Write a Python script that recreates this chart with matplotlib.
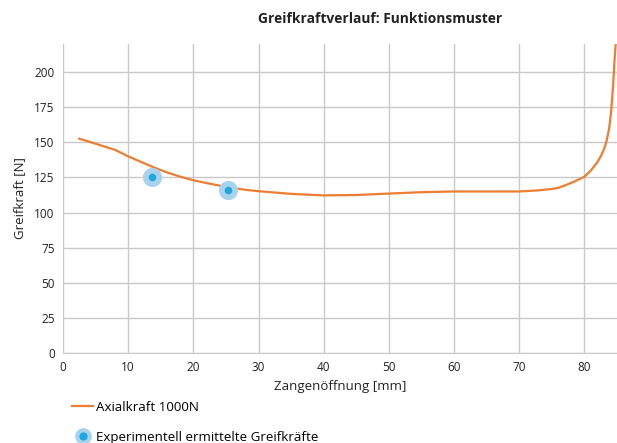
import matplotlib.pyplot as plt
from matplotlib.lines import Line2D

# Simulated grip force curve (Axialkraft 1000N)
opening_mm = [2.5, 5, 8, 10, 12, 14, 16, 18, 20, 22, 25, 28, 30, 35, 40, 45, 50,
              55, 60, 65, 70, 73, 75, 76, 77.5, 79, 80, 81, 82, 82.5, 83, 83.4,
              83.8, 84.1, 84.4, 84.6, 84.8]
force_n = [152.6, 149, 144.6, 140, 136, 132, 128.5, 125.5, 123, 121, 118.3, 116.2,
           115.2, 113.3, 112.2, 112.5, 113.5, 114.5, 115, 115, 115, 115.8, 116.8,
           117.6, 120.2, 123.2, 125.5, 130, 136, 140, 145, 151, 160, 172, 190, 207, 220]

# Experimentally measured grip forces
exp_opening_mm = [13.6, 25.3]
exp_force_n = [125, 116]

ORANGE = '#ED7D31'
BLUE = '#1CA9E1'
HALO = '#A9D2EE'
GRID = '#C9C9C9'

plt.rcParams['font.family'] = ['Open Sans', 'DejaVu Sans']

fig = plt.figure(figsize=(6.17, 4.43), dpi=100)
ax = fig.add_axes([63 / 617, 1 - 353 / 443, (617 - 63) / 617, (353 - 44) / 443])

ax.plot(opening_mm, force_n, color=ORANGE, linewidth=1.6, zorder=3)
ax.scatter(exp_opening_mm, exp_force_n, s=190, color=HALO, zorder=4, linewidths=0)
ax.scatter(exp_opening_mm, exp_force_n, s=30, color=BLUE, zorder=5, linewidths=0)

ax.set_xlim(0, 85)
ax.set_ylim(0, 220)
ax.set_xticks(range(0, 81, 10))
ax.set_yticks(range(0, 201, 25))
ax.grid(True, color=GRID, linewidth=1)
ax.set_axisbelow(True)
for side in ['top', 'right', 'left']:
    ax.spines[side].set_visible(False)
ax.spines['bottom'].set_color(GRID)
ax.tick_params(length=0, labelsize=8.5, colors='#222222', pad=6)

ax.set_xlabel('Zangenöffnung [mm]', fontsize=9.5, color='#222222', labelpad=4)
ax.set_ylabel('Greifkraft [N]', fontsize=9.5, color='#222222', labelpad=6)

fig.text(380 / 617, 1 - 19 / 443, 'Greifkraftverlauf: Funktionsmuster',
         ha='center', va='center', fontsize=9.9, fontweight='bold', color='#222222')

# Legend below the plot
handles = [
    Line2D([0], [0], color=ORANGE, linewidth=1.6),
    Line2D([0], [0], linestyle='none', marker='o', markersize=9,
           markerfacecolor=BLUE, markeredgecolor=HALO, markeredgewidth=3),
]
fig.legend(handles, ['Axialkraft 1000N', 'Experimentell ermittelte Greifkräfte'],
           loc='upper left', bbox_to_anchor=(72 / 617, 1 - 401 / 443),
           frameon=False, fontsize=9.6, handlelength=1.6, handletextpad=0.2,
           labelspacing=1.25, borderpad=0, borderaxespad=0)

fig.savefig('out.png', dpi=100, facecolor='white')
